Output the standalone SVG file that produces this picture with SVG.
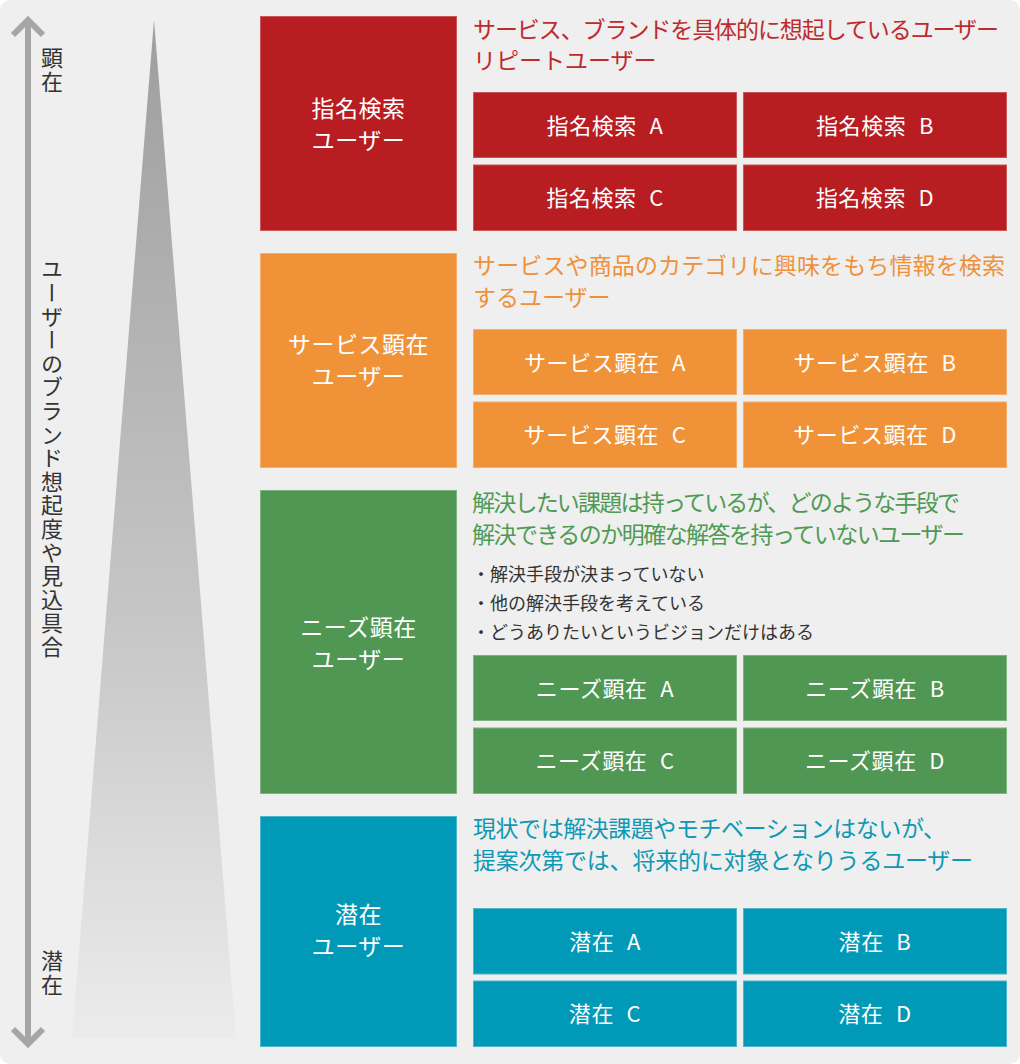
<svg xmlns="http://www.w3.org/2000/svg" width="1020" height="1064" viewBox="0 0 1020 1064">
<defs>
<linearGradient id="tri" x1="0" y1="20" x2="0" y2="1040" gradientUnits="userSpaceOnUse">
<stop offset="0" stop-color="#9e9e9e"/>
<stop offset="0.6" stop-color="#c7c7c7"/>
<stop offset="1" stop-color="#ececec"/>
</linearGradient>
<style>
text{font-family:"Noto Sans CJK JP","Noto Sans",sans-serif;}
.main{stroke-width:1;}
.lbl{fill:#fff;font-size:23px;text-anchor:middle;letter-spacing:0.5px;}
.sub{fill:#fff;font-size:22px;text-anchor:middle;letter-spacing:0.6px;}
.desc{font-size:23px;}
.bul{font-size:18px;fill:#333;}
.axis{fill:#333;font-size:22px;writing-mode:vertical-rl;letter-spacing:1.6px;}
.red{fill:#b71d21;stroke:#c9575a;}
.org{fill:#f09338;stroke:#f3ae6e;}
.grn{fill:#4f9753;stroke:#7eb281;}
.tea{fill:#009ab8;stroke:#4db5ca;}
.axl{fill:none;stroke:#a5a7a6;stroke-width:6;}
</style>
</defs>
<rect x="0" y="0" width="1020" height="1064" fill="#ffffff"/>
<rect x="0" y="0" width="1020" height="1064" rx="10" ry="10" fill="#eeefee"/>
<polygon points="154,20 236,1038 72,1038" fill="url(#tri)"/>
<g id="connectors">
<line class="axl" x1="28" y1="22" x2="28" y2="1042"/>
<polyline class="axl" points="13,35 28,20 43,35"/>
<polyline class="axl" points="13,1029 28,1044 43,1029"/>
</g>
<g id="axis-labels">
<text class="axis" x="52" y="47">顕在</text>
<text class="axis" x="52" y="258">ユーザーのブランド想起度や見込具合</text>
<text class="axis" x="52" y="950">潜在</text>
</g>
<g id="shimei">
<rect class="red main" x="260.5" y="16.5" width="196" height="214"/>
<text class="lbl" x="358.5" y="117">指名検索</text>
<text class="lbl" x="358.5" y="149">ユーザー</text>
<text class="desc" x="473" y="38" fill="#bf2a2d" textLength="526" lengthAdjust="spacing">サービス、ブランドを具体的に想起しているユーザー</text>
<text class="desc" x="473" y="69" fill="#bf2a2d">リピートユーザー</text>
<rect class="red" x="473.5" y="92.5" width="263" height="65"/>
<rect class="red" x="743.5" y="92.5" width="263" height="65"/>
<rect class="red" x="473.5" y="165" width="263" height="65.5"/>
<rect class="red" x="743.5" y="165" width="263" height="65.5"/>
<text class="sub" x="605" y="133.5">指名検索 <tspan dx="7">A</tspan></text>
<text class="sub" x="875" y="133.5">指名検索 <tspan dx="7">B</tspan></text>
<text class="sub" x="605" y="206">指名検索 <tspan dx="7">C</tspan></text>
<text class="sub" x="875" y="206">指名検索 <tspan dx="7">D</tspan></text>
</g>
<g id="service">
<rect class="org main" x="260.5" y="253.5" width="196" height="214"/>
<text class="lbl" x="358.5" y="353">サービス顕在</text>
<text class="lbl" x="358.5" y="385">ユーザー</text>
<text class="desc" x="473" y="274" fill="#f0913a" textLength="532" lengthAdjust="spacing">サービスや商品のカテゴリに興味をもち情報を検索</text>
<text class="desc" x="473" y="306" fill="#f0913a">するユーザー</text>
<rect class="org" x="473.5" y="329.5" width="263" height="65"/>
<rect class="org" x="743.5" y="329.5" width="263" height="65"/>
<rect class="org" x="473.5" y="402" width="263" height="65.5"/>
<rect class="org" x="743.5" y="402" width="263" height="65.5"/>
<text class="sub" x="605" y="370.5">サービス顕在 <tspan dx="7">A</tspan></text>
<text class="sub" x="875" y="370.5">サービス顕在 <tspan dx="7">B</tspan></text>
<text class="sub" x="605" y="443">サービス顕在 <tspan dx="7">C</tspan></text>
<text class="sub" x="875" y="443">サービス顕在 <tspan dx="7">D</tspan></text>
</g>
<g id="needs">
<rect class="grn main" x="260.5" y="490.5" width="196" height="303"/>
<text class="lbl" x="358.5" y="636">ニーズ顕在</text>
<text class="lbl" x="358.5" y="668">ユーザー</text>
<text class="desc" x="472" y="511" fill="#4f9a55" textLength="488" lengthAdjust="spacing">解決したい課題は持っているが、どのような手段で</text>
<text class="desc" x="472" y="543" fill="#4f9a55" textLength="493" lengthAdjust="spacing">解決できるのか明確な解答を持っていないユーザー</text>
<text class="bul" x="472" y="581">・解決手段が決まっていない</text>
<text class="bul" x="472" y="610">・他の解決手段を考えている</text>
<text class="bul" x="472" y="639">・どうありたいというビジョンだけはある</text>
<rect class="grn" x="473.5" y="655.5" width="263" height="65"/>
<rect class="grn" x="743.5" y="655.5" width="263" height="65"/>
<rect class="grn" x="473.5" y="728" width="263" height="65.5"/>
<rect class="grn" x="743.5" y="728" width="263" height="65.5"/>
<text class="sub" x="605" y="696.5">ニーズ顕在 <tspan dx="7">A</tspan></text>
<text class="sub" x="875" y="696.5">ニーズ顕在 <tspan dx="7">B</tspan></text>
<text class="sub" x="605" y="769">ニーズ顕在 <tspan dx="7">C</tspan></text>
<text class="sub" x="875" y="769">ニーズ顕在 <tspan dx="7">D</tspan></text>
</g>
<g id="senzai">
<rect class="tea main" x="260.5" y="816.5" width="196" height="230"/>
<text class="lbl" x="358.5" y="923">潜在</text>
<text class="lbl" x="358.5" y="955">ユーザー</text>
<text class="desc" x="473" y="837" fill="#0f98b5" textLength="473" lengthAdjust="spacing">現状では解決課題やモチベーションはないが、</text>
<text class="desc" x="473" y="869" fill="#0f98b5" textLength="500" lengthAdjust="spacing">提案次第では、将来的に対象となりうるユーザー</text>
<rect class="tea" x="473.5" y="908.5" width="263" height="65.5"/>
<rect class="tea" x="743.5" y="908.5" width="263" height="65.5"/>
<rect class="tea" x="473.5" y="981" width="263" height="65.5"/>
<rect class="tea" x="743.5" y="981" width="263" height="65.5"/>
<text class="sub" x="605" y="950">潜在 <tspan dx="7">A</tspan></text>
<text class="sub" x="875" y="950">潜在 <tspan dx="7">B</tspan></text>
<text class="sub" x="605" y="1022">潜在 <tspan dx="7">C</tspan></text>
<text class="sub" x="875" y="1022">潜在 <tspan dx="7">D</tspan></text>
</g>
</svg>
